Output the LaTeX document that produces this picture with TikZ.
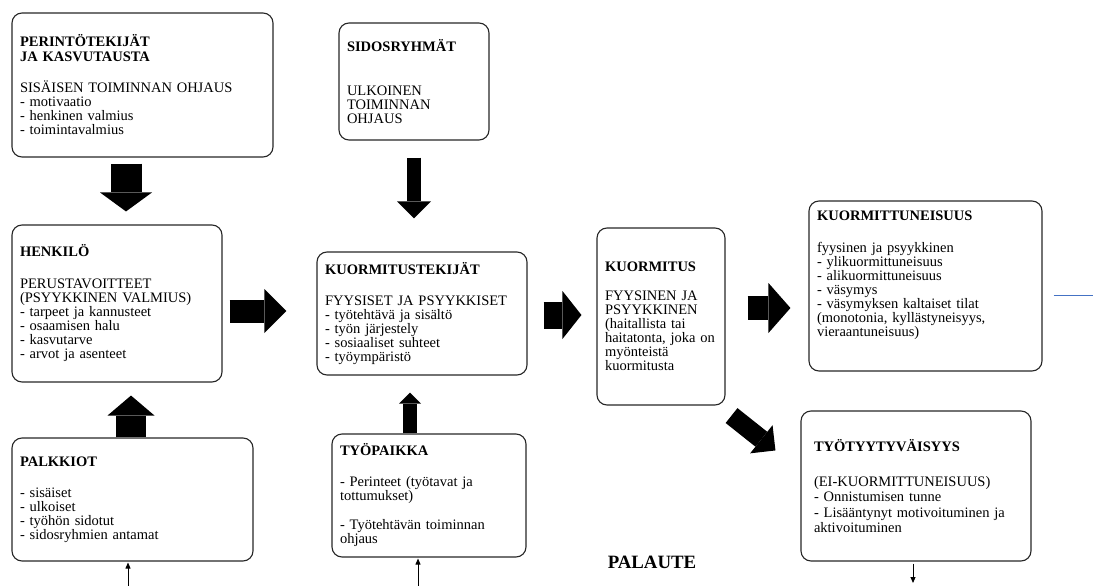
\documentclass[tikz,border=0pt]{standalone}
\usepackage{fontspec}
\setmainfont{Liberation Serif}
\usetikzlibrary{arrows.meta,calc}
\definecolor{linkblue}{RGB}{68,114,196}
\begin{document}
\begin{tikzpicture}[x=1pt,y=-1pt,
  box/.style={draw=black!85, line width=1.1pt, rounded corners=10pt, align=left,
    inner xsep=8pt, inner ysep=0pt, font=\fontsize{14.5}{14}\selectfont},
  blockarr/.style n args={3}{draw=black, line width=#1pt,
    -{Triangle[length=#3pt, width=#2pt, line width=0pt]}},
  thinarr/.style={draw=black, line width=0.9pt, -{Triangle[length=6pt, width=5pt]}},
  blueline/.style={draw=linkblue, line width=1pt},
  label/.style={font=\fontsize{18.8}{20}\selectfont\bfseries, inner sep=0pt}]
\useasboundingbox (0,0) rectangle (1093,586);

% ---- boxes ----
\node[box, text width=245pt, minimum height=144pt] (b1) at (142.5,85)
  {\textbf{PERINTÖTEKIJÄT}\\[1pt]\textbf{JA KASVUTAUSTA}\\[17pt]
   SISÄISEN TOIMINNAN OHJAUS\\- motivaatio\\- henkinen valmius\\- toimintavalmius};

\node[box, text width=134pt, minimum height=117pt] (b2) at (414,81.5)
  {\textbf{SIDOSRYHMÄT}\\[30pt]ULKOINEN\\TOIMINNAN\\OHJAUS};

\node[box, text width=194pt, minimum height=157pt] (b3) at (117,303.5)
  {\textbf{HENKILÖ}\\[18pt]PERUSTAVOITTEET\\(PSYYKKINEN VALMIUS)\\- tarpeet ja kannusteet\\- osaamisen halu\\- kasvutarve\\- arvot ja asenteet};

\node[box, text width=194pt, minimum height=123pt] (b4) at (422,313.5)
  {\textbf{KUORMITUSTEKIJÄT}\\[17pt]FYYSISET JA PSYYKKISET\\- työtehtävä ja sisältö\\- työn järjestely\\- sosiaaliset suhteet\\- työympäristö};

\node[box, text width=112pt, minimum height=177pt] (b5) at (661,316.5)
  {\textbf{KUORMITUS}\\[15pt]FYYSINEN JA\\PSYYKKINEN\\(haitallista tai\\haitatonta, joka on\\myönteistä\\kuormitusta};

\node[box, text width=217pt, minimum height=170pt] (b6) at (925.5,286)
  {\textbf{KUORMITTUNEISUUS}\\[18pt]fyysinen ja psyykkinen\\- ylikuormittuneisuus\\- alikuormittuneisuus\\- väsymys\\- väsymyksen kaltaiset tilat\\(monotonia, kyllästyneisyys,\\vieraantuneisuus)\\[10pt]\mbox{}};

\node[box, inner xsep=13pt, text width=204pt, minimum height=150pt] (b7) at (916,486)
  {\textbf{TYÖTYYTYVÄISYYS}\\[21pt](EI-KUORMITTUNEISUUS)\\[1.5pt]- Onnistumisen tunne\\[1.5pt]- Lisääntynyt motivoituminen ja\\[1.5pt]aktivoituminen};

\node[box, text width=225pt, minimum height=123pt] (b8) at (132.5,499.5)
  {\textbf{PALKKIOT}\\[17pt]- sisäiset\\- ulkoiset\\- työhön sidotut\\- sidosryhmien antamat};

\node[box, text width=178pt, minimum height=123pt] (b9) at (429,495.5)
  {\textbf{TYÖPAIKKA}\\[17pt]- Perinteet (työtavat ja\\tottumukset)\\[15pt]- Työtehtävän toiminnan\\ohjaus};

\node[label] (pal) at (652,562) {PALAUTE};

% ---- block arrows ----
\coordinate (x1) at (126,0);
\draw[blockarr={31}{52}{19}, shorten <=6pt, shorten >=13pt] (b1.south -| x1) -- (b3.north -| x1);
\coordinate (x2) at (414,0);
\draw[blockarr={14}{34}{17}, shorten <=17pt, shorten >=33pt] (b2.south -| x2) -- (b4.north -| x2);
\coordinate (y3) at (0,311);
\draw[blockarr={23}{44}{22}, shorten <=7pt, shorten >=30pt] (b3.east |- y3) -- (b4.west |- y3);
\coordinate (x4) at (131,0);
\draw[blockarr={30}{47}{20}, shorten >=13pt] (b8.north -| x4) -- (b3.south -| x4);
\coordinate (x5) at (410,0);
\draw[blockarr={14}{22}{11}, shorten >=17pt] (b9.north -| x5) -- (b4.south -| x5);
\coordinate (y6) at (0,315);
\draw[blockarr={27}{48}{19}, shorten <=16pt, shorten >=15pt] (b4.east |- y6) -- (b5.west |- y6);
\coordinate (y7) at (0,308);
\draw[blockarr={24}{50}{22}, shorten <=22pt, shorten >=18pt] (b5.east |- y7) -- (b6.west |- y7);
\draw[blockarr={19}{36}{18}] ([shift={(6,10)}]b5.south east) -- ([shift={(-25,40)}]b7.north west);

% ---- thin arrows ----
\coordinate (f1) at (128,586);
\draw[thinarr, shorten >=1pt] (f1) -- (b8.south -| f1);
\coordinate (f2) at (418,586);
\draw[thinarr, shorten >=1pt] (f2) -- (b9.south -| f2);
\coordinate (f3) at (913,583);
\draw[thinarr, shorten <=2pt] (b7.south -| f3) -- (f3);

% ---- blue line ----
\coordinate (g2) at (1093,295);
\draw[blueline, shorten <=11pt] (b6.east |- g2) -- (g2);
\end{tikzpicture}
\end{document}
